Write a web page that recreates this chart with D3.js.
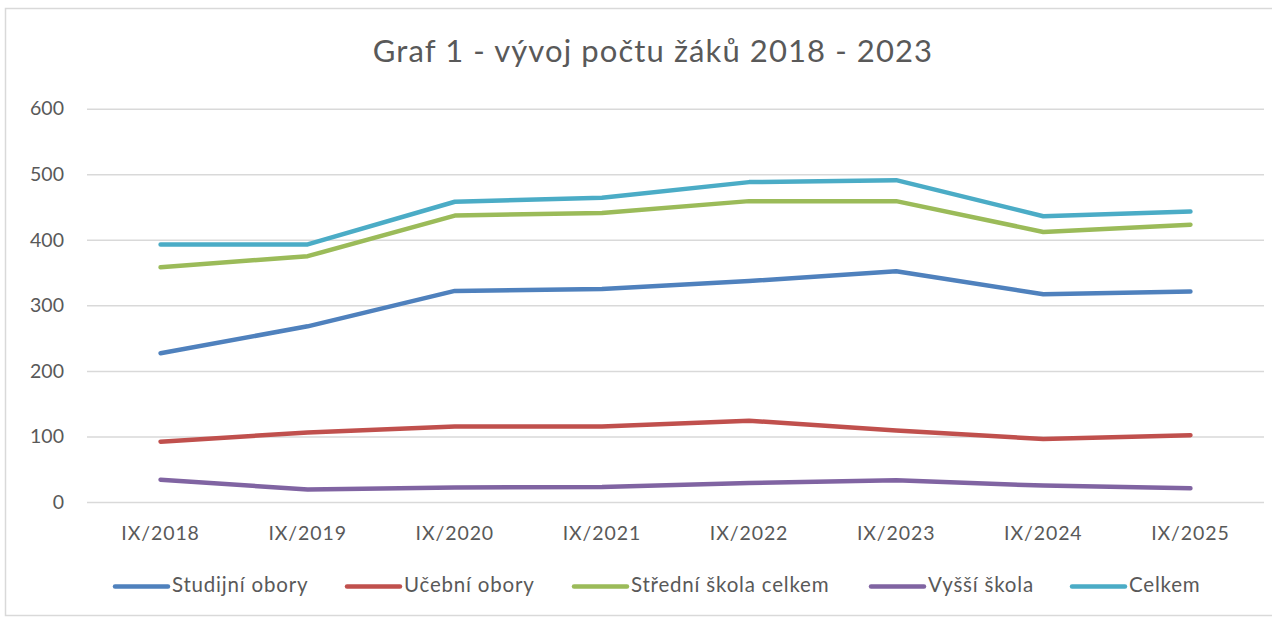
<!DOCTYPE html>
<html><head><meta charset="utf-8">
<script src="https://cdn.jsdelivr.net/npm/d3@7"></script>
<style>body{margin:0;background:#fff}svg{display:block}text{font-family:Lato,"Open Sans",sans-serif;fill:#595959}</style>
</head><body><svg id="c" width="1272" height="619"></svg>
<script>
const categories = ["IX/2018","IX/2019","IX/2020","IX/2021","IX/2022","IX/2023","IX/2024","IX/2025"];
const studijni = [227, 268, 322, 325, 337, 352, 317, 321];
const ucebni   = [92, 106, 115, 115, 124, 109, 96, 102];
const stredni  = [358, 375, 437, 441, 459, 459, 412, 423];
const vyssi    = [34, 19, 22, 23, 29, 33, 25, 21];
const celkem   = [393, 393, 458, 464, 488, 491, 436, 443];
const yTicks = [0,100,200,300,400,500,600];
const seriesNames = ["Studijní obory","Učební obory","Střední škola celkem","Vyšší škola","Celkem"];
const seriesColors = ["#4F81BD","#C0504D","#9BBB59","#8064A2","#4BACC6"];
const seriesValues = [studijni, ucebni, stredni, vyssi, celkem];
const title = "Graf 1 - vývoj počtu žáků 2018 - 2023";

const svg = d3.select("#c");
svg.append("rect").attr("x",5.5).attr("y",8.5).attr("width",1280).attr("height",607)
  .attr("fill","#fff").attr("stroke","#D9D9D9").attr("stroke-width",1.5);

const x = d3.scaleBand().domain(categories).range([87,1264]);
const y = d3.scaleLinear().domain([0,600]).range([502,108.7]);

svg.append("text").attr("x",653).attr("y",62).attr("text-anchor","middle")
  .style("font-size","31px").style("letter-spacing","1.1px").text(title);

const gy = svg.append("g").attr("transform","translate(87,0)")
  .call(d3.axisLeft(y).tickValues(yTicks).tickSize(-1177).tickPadding(23));
gy.select(".domain").remove();
gy.selectAll(".tick line").attr("stroke","#D9D9D9").attr("stroke-width",1.5);
gy.selectAll(".tick text").style("font-size","19.5px").style("fill","#595959");

const gx = svg.append("g").attr("transform","translate(0,502)")
  .call(d3.axisBottom(x).tickSize(0).tickPadding(24));
gx.select(".domain").remove();
gx.selectAll(".tick text").style("font-size","19.5px").style("letter-spacing","0.9px").style("fill","#595959");

const line = d3.line().x((d,i)=>x(categories[i])+x.bandwidth()/2).y(d=>y(d));
seriesValues.forEach((vals,k)=>{
  svg.append("path").datum(vals).attr("d",line).attr("fill","none")
    .attr("stroke",seriesColors[k]).attr("stroke-width",4.5)
    .attr("stroke-linecap","round").attr("stroke-linejoin","round");
});

const legX = [115,347,574,871,1072];
const lg = svg.append("g");
seriesNames.forEach((n,k)=>{
  lg.append("line").attr("x1",legX[k]).attr("x2",legX[k]+53).attr("y1",586.5).attr("y2",586.5)
    .attr("stroke",seriesColors[k]).attr("stroke-width",4.5).attr("stroke-linecap","round");
  lg.append("text").attr("x",legX[k]+57).attr("y",592).style("font-size","20.5px")
    .style("letter-spacing","0.8px").text(n);
});
</script></body></html>
